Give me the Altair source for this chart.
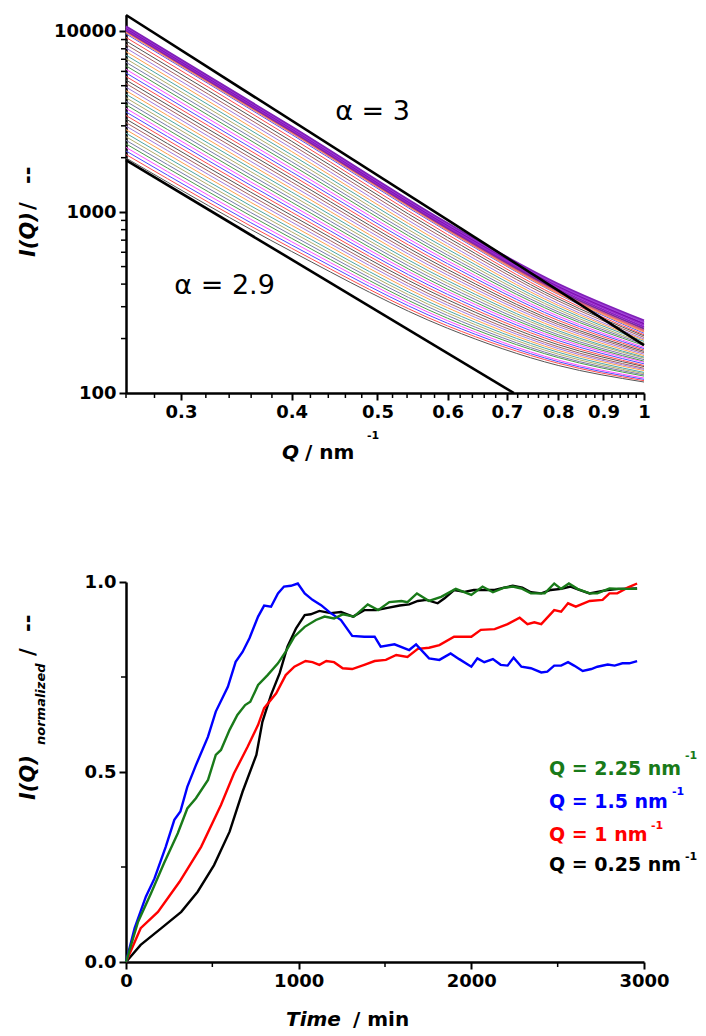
import altair as alt
import pandas as pd

# ---------------- top panel: I(Q) curves ----------------
q_points = [0.26, 0.4, 0.6, 0.8, 1.0]
# curves from bottom to top; last 8 form the dense purple band
I_026 = [1991, 2083, 2179, 2280, 2385, 2495, 2611, 2731, 2857, 2989, 3127, 3272, 3423, 3581,
         3746, 3919, 4100, 4290, 4488, 4695, 4912, 5139, 5376, 5625, 5885, 6157, 6441, 6739,
         7050, 7376, 7716, 8073, 8446, 8836, 9244, 9671,
         9886, 9994, 10102, 10212, 10323, 10436, 10549, 10664]
I_040 = [606, 631, 658, 686, 716, 746, 778, 810, 846, 882, 919, 959, 1000, 1044,
         1089, 1136, 1186, 1237, 1291, 1347, 1406, 1468, 1532, 1599, 1669, 1743, 1820, 1900,
         1984, 2072, 2163, 2259, 2359, 2464, 2573, 2688,
         2747, 2778, 2810, 2843, 2875, 2909, 2942, 2976]
I_060 = [228, 235, 243, 251, 259, 268, 277, 286, 296, 306, 316, 328, 339, 351,
         364, 376, 390, 404, 418, 433, 449, 465, 482, 500, 519, 538, 559, 579,
         601, 624, 647, 671, 698, 725, 752, 781,
         795, 805, 815, 826, 837, 848, 859, 870]
I_080 = [142, 146, 149, 152, 157, 160, 164, 168, 172, 176, 180, 185, 190, 195,
         200, 205, 210, 216, 221, 227, 233, 239, 245, 252, 259, 266, 274, 281,
         289, 297, 305, 313, 323, 332, 341, 351,
         355, 362, 369, 376, 383, 390, 396, 402]
I_100 = [115, 117, 119, 121, 124, 126, 128, 130, 133, 135, 137, 140, 142, 145,
         148, 150, 153, 156, 158, 161, 164, 167, 170, 173, 176, 179, 183, 186,
         189, 193, 196, 199, 203, 207, 210, 214,
         218, 222, 227, 232, 237, 242, 247, 252]
n_band = 8
spread_cycle = ["#555555", "#ff4d4d", "#4d4dff", "#ff4dff", "#4d9a4d", "#7a7aa8",
                "#b3ad6b", "#4da6a6", "#ff9f4d", "#9f7ae0", "#a66060"]
band_colors = ["#ff9f60", "#e0607a", "#7a2a9a", "#8a1ec0", "#9b2fd0", "#7d0fb0", "#a040d8", "#8020b8"]

# power-law guide lines
alpha_labels = ["α = 3", "α = 2.9"]
alpha3_Q = [0.26, 1.0]
alpha3_I = [12300, 184]
alpha29_Q = [0.26, 0.713]
alpha29_I = [1940, 100]
alpha_text_Q = [0.4937, 0.336]
alpha_text_I = [3568, 390]

x_major_top = [0.3, 0.4, 0.5, 0.6, 0.7, 0.8, 0.9, 1.0]
x_minor_top = [0.26, 0.28, 0.32, 0.34, 0.36, 0.38, 0.42, 0.44, 0.46, 0.48, 0.52, 0.54, 0.56, 0.58,
               0.62, 0.64, 0.66, 0.68, 0.72, 0.74, 0.76, 0.78, 0.82, 0.84, 0.86, 0.88,
               0.92, 0.94, 0.96, 0.98]
y_major_top = [100, 1000, 10000]
y_minor_top = [200, 300, 400, 500, 600, 700, 800, 900, 2000, 3000, 4000, 5000, 6000, 7000, 8000, 9000]

# ---------------- bottom panel: normalized kinetics ----------------
t_green = [0, 70, 145, 220, 300, 355, 405, 475, 520, 550, 600, 645, 690, 720, 765, 820, 880, 925, 975, 1035,
           1100, 1150, 1205, 1255, 1320, 1400, 1460, 1525, 1595, 1630, 1685, 1755, 1825, 1910, 2000, 2065,
           2125, 2190, 2240, 2290, 2345, 2425, 2480, 2520, 2565, 2615, 2685, 2730, 2800, 2865, 2960]
v_green = [0, 0.106, 0.181, 0.26, 0.339, 0.404, 0.431, 0.479, 0.545, 0.558, 0.611, 0.65, 0.676, 0.685, 0.729,
           0.755, 0.786, 0.817, 0.856, 0.882, 0.9, 0.909, 0.904, 0.915, 0.909, 0.941, 0.926, 0.947, 0.95,
           0.947, 0.97, 0.95, 0.961, 0.982, 0.966, 0.988, 0.973, 0.985, 0.988, 0.983, 0.97, 0.97, 0.996,
           0.982, 0.996, 0.982, 0.97, 0.97, 0.983, 0.982, 0.982]
t_blue = [0, 50, 115, 165, 230, 280, 315, 355, 405, 475, 520, 590, 635, 675, 715, 765, 800, 840, 880, 915,
          955, 995, 1035, 1080, 1130, 1180, 1245, 1310, 1380, 1440, 1475, 1555, 1640, 1680, 1755, 1815,
          1880, 1930, 2000, 2035, 2075, 2125, 2170, 2210, 2245, 2290, 2345, 2405, 2440, 2480, 2520, 2560,
          2595, 2645, 2695, 2730, 2790, 2830, 2875, 2915, 2960]
v_blue = [0, 0.089, 0.172, 0.22, 0.303, 0.374, 0.396, 0.461, 0.518, 0.593, 0.659, 0.724, 0.79, 0.816, 0.852,
          0.909, 0.938, 0.935, 0.97, 0.988, 0.99, 0.996, 0.97, 0.953, 0.939, 0.92, 0.9, 0.858, 0.856, 0.856,
          0.83, 0.836, 0.821, 0.836, 0.799, 0.795, 0.812, 0.797, 0.777, 0.799, 0.789, 0.797, 0.782, 0.78,
          0.801, 0.777, 0.773, 0.762, 0.764, 0.78, 0.78, 0.789, 0.78, 0.766, 0.771, 0.777, 0.783, 0.78,
          0.786, 0.786, 0.792]
t_red = [0, 85, 185, 310, 435, 550, 625, 705, 765, 800, 870, 925, 975, 1040, 1080, 1120, 1160, 1205, 1255,
         1310, 1380, 1440, 1505, 1565, 1630, 1690, 1755, 1815, 1900, 2000, 2055, 2135, 2210, 2280, 2325,
         2365, 2405, 2480, 2520, 2560, 2605, 2685, 2760, 2800, 2845, 2905, 2960]
v_red = [0, 0.089, 0.132, 0.211, 0.303, 0.413, 0.496, 0.567, 0.624, 0.668, 0.707, 0.755, 0.777, 0.792,
         0.789, 0.782, 0.792, 0.789, 0.773, 0.771, 0.782, 0.792, 0.795, 0.808, 0.803, 0.824, 0.827, 0.834,
         0.856, 0.856, 0.874, 0.876, 0.889, 0.906, 0.889, 0.894, 0.889, 0.926, 0.922, 0.944, 0.935, 0.95,
         0.953, 0.97, 0.97, 0.985, 0.996]
t_black = [0, 85, 205, 320, 415, 510, 600, 675, 755, 790, 840, 890, 935, 985, 1035, 1070, 1120, 1185, 1245,
           1315, 1380, 1450, 1515, 1585, 1640, 1690, 1740, 1805, 1845, 1900, 1960, 2015, 2075, 2135, 2190,
           2240, 2295, 2345, 2405, 2460, 2520, 2575, 2625, 2685, 2730, 2790, 2855, 2960]
v_black = [0, 0.045, 0.089, 0.132, 0.185, 0.255, 0.343, 0.448, 0.545, 0.632, 0.703, 0.76, 0.83, 0.878,
           0.913, 0.915, 0.924, 0.918, 0.921, 0.909, 0.926, 0.926, 0.932, 0.938, 0.941, 0.95, 0.953, 0.944,
           0.957, 0.979, 0.974, 0.979, 0.979, 0.979, 0.985, 0.99, 0.985, 0.973, 0.97, 0.979, 0.982, 0.988,
           0.979, 0.97, 0.974, 0.979, 0.982, 0.983]
legend_labels = ["Q = 2.25 nm", "Q = 1.5 nm", "Q = 1 nm", "Q = 0.25 nm"]
series_colors = ["#197a19", "#0000ff", "#ff0000", "#000000"]

x_major_bot = [0, 1000, 2000, 3000]
x_minor_bot = [500, 1500, 2500]
y_major_bot = [0.0, 0.5, 1.0]
y_minor_bot = [0.25, 0.75]

# ---------------- build tables ----------------
cols = [I_026, I_040, I_060, I_080, I_100]
n_curves = len(I_026)
curve_ids = [f"c{k:02d}" for k in range(n_curves)]
curve_colors = [spread_cycle[k % len(spread_cycle)] for k in range(n_curves - n_band)] + band_colors
rows = []
for k in range(n_curves):
    for j, q in enumerate(q_points):
        rows.append({"Q": q, "I": cols[j][k], "curve": curve_ids[k], "band": k >= n_curves - n_band})
curves = pd.DataFrame(rows)
spread_df = curves[~curves["band"]]
band_df = curves[curves["band"]]

guide_df = pd.DataFrame({
    "Q": alpha3_Q + alpha29_Q,
    "I": alpha3_I + alpha29_I,
    "line": ["a3", "a3", "a29", "a29"],
})
alpha_df = pd.DataFrame({"Q": alpha_text_Q, "I": alpha_text_I, "label": alpha_labels})

FONT = "DejaVu Sans"
axis_common = dict(domainColor="black", domainWidth=2.5, tickColor="black", tickWidth=2, tickSize=7,
                   labelFont=FONT, labelFontWeight="bold", labelFontSize=18, labelColor="black",
                   labelPadding=3, grid=False, title="")

xq = alt.X("Q:Q", scale=alt.Scale(type="log", domain=[0.26, 1.0], nice=False),
           axis=alt.Axis(values=x_major_top, format="~g", orient="bottom", labelFlush=False, **axis_common))
yi = alt.Y("I:Q", scale=alt.Scale(type="log", domain=[100, 12300], nice=False),
           axis=alt.Axis(values=y_major_top, format="d", orient="left", **axis_common))
color_enc = alt.Color("curve:N", scale=alt.Scale(domain=curve_ids, range=curve_colors))

spread_layer = alt.Chart(spread_df).mark_line(strokeWidth=1, interpolate="monotone").encode(
    x=xq, y=yi, color=color_enc)
band_layer = alt.Chart(band_df).mark_line(strokeWidth=1.8, interpolate="monotone").encode(
    x=xq, y=yi, color=color_enc)
guide_layer = alt.Chart(guide_df).mark_line(color="black", strokeWidth=2.6).encode(
    x=xq, y=yi, detail="line:N")
alpha_layer = alt.Chart(alpha_df).mark_text(font=FONT, fontSize=27, color="black").encode(
    x=xq, y=yi, text="label:N")
# minor ticks, placed through the same scales
minor_x_top = alt.Chart(pd.DataFrame({"Q": x_minor_top})).mark_rule(color="black", strokeWidth=1.5).encode(
    x=xq, y=alt.value(378), y2=alt.value(383))
minor_y_top = alt.Chart(pd.DataFrame({"I": y_minor_top})).mark_rule(color="black", strokeWidth=1.5).encode(
    y=yi, x=alt.value(0), x2=alt.value(-5))

one = pd.DataFrame({"a": [0]})


def label(text, x, y, size, italic=False, angle=0, color="black", align="left"):
    kw = dict(font=FONT, fontSize=size, fontWeight="bold", color=color, align=align, baseline="middle",
              text=text)
    if italic:
        kw["fontStyle"] = "italic"
    if angle:
        kw["angle"] = angle
    return alt.Chart(one).mark_text(**kw).encode(x=alt.value(x), y=alt.value(y))


top_titles = [
    label("I(Q)", -97, 242, 21, italic=True, angle=270),
    label("/", -97, 195, 21, angle=270),
    label("--", -97, 169, 21, angle=270),
    label("Q", 156, 438, 20, italic=True),
    label("/ nm", 179, 438, 20),
    label("-1", 241, 421, 11),
]

top = alt.layer(spread_layer, band_layer, guide_layer, alpha_layer, minor_x_top, minor_y_top,
                *top_titles).properties(width=518, height=378)

# ---------------- bottom chart ----------------
xt = alt.X("t:Q", scale=alt.Scale(domain=[0, 3000], nice=False),
           axis=alt.Axis(values=x_major_bot, format="d", orient="bottom", labelFlush=False, **axis_common))
yv = alt.Y("v:Q", scale=alt.Scale(domain=[0, 1.0], nice=False),
           axis=alt.Axis(values=y_major_bot, format=".1f", orient="left", **axis_common))

bot_layers = []
for t_vals, v_vals, col in [(t_black, v_black, "#000000"), (t_red, v_red, "#ff0000"),
                            (t_blue, v_blue, "#0000ff"), (t_green, v_green, "#197a19")]:
    bot_layers.append(alt.Chart(pd.DataFrame({"t": t_vals, "v": v_vals})).mark_line(
        color=col, strokeWidth=2.4).encode(x=xt, y=yv))
minor_x_bot = alt.Chart(pd.DataFrame({"t": x_minor_bot})).mark_rule(color="black", strokeWidth=1.5).encode(
    x=xt, y=alt.value(380), y2=alt.value(385))
minor_y_bot = alt.Chart(pd.DataFrame({"v": y_minor_bot})).mark_rule(color="black", strokeWidth=1.5).encode(
    y=yv, x=alt.value(0), x2=alt.value(-5))

legend_y = [187, 220, 253, 283]
sup_x = [559, 546, 525, 559]
sup_y = [174, 210, 244, 275]
bot_titles = [
    label("I(Q)", -97, 218, 21, italic=True, angle=270),
    label("normalized", -85, 163, 13, italic=True, angle=270),
    label("/", -97, 74, 21, angle=270),
    label("--", -97, 50, 21, angle=270),
    label("Time", 160, 438, 20, italic=True),
    label("/ min", 227, 438, 20),
]
for txt, col, yy, sx, sy in zip(legend_labels, series_colors, legend_y, sup_x, sup_y):
    bot_titles.append(label(txt, 423, yy, 19, color=col))
    bot_titles.append(label("-1", sx, sy, 11, color=col))

bottom = alt.layer(*bot_layers, minor_x_bot, minor_y_bot, *bot_titles).properties(width=518, height=380)

chart = alt.vconcat(top, bottom, spacing=108).properties(
    padding={"left": 9, "top": 1, "right": 0, "bottom": 0}
).configure_view(stroke="transparent").configure_legend(disable=True)

chart.save("out.html", embed_options={"renderer": "svg", "actions": False})
